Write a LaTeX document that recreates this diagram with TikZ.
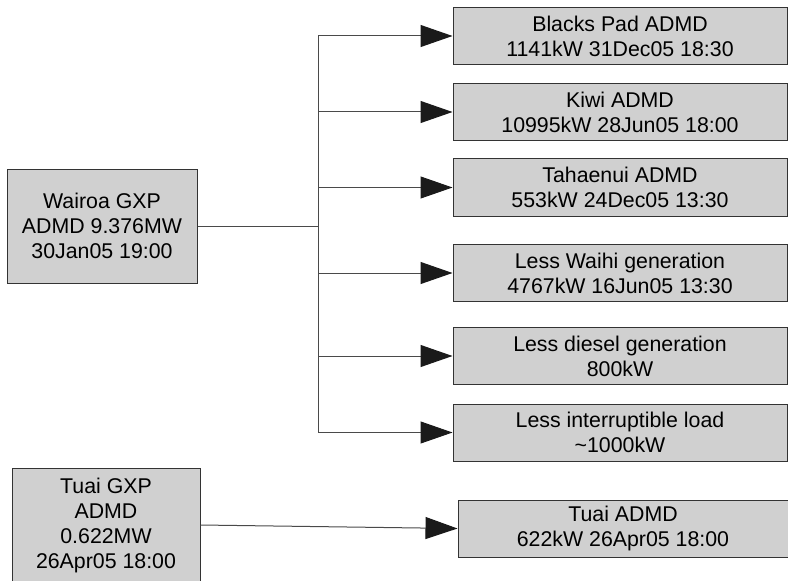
\documentclass[tikz,border=0pt]{standalone}
\usepackage{fontspec}
\setmainfont{Liberation Sans}
\usetikzlibrary{arrows.meta, positioning, calc}
\definecolor{BoxGray}{HTML}{D0D0D0}
\definecolor{EdgeGray}{HTML}{333333}
\definecolor{LineGray}{HTML}{4A4A4A}
\definecolor{HeadBlack}{HTML}{1A1A1A}

\begin{document}
\begin{tikzpicture}[x=0.75pt, y=-0.75pt,
    block/.style={draw=EdgeGray, fill=BoxGray, line width=0.75pt, align=center,
        inner sep=0pt, font=\fontsize{16}{18.75}\selectfont},
    branch/.style={block, minimum width=250.5pt, minimum height=42.75pt},
    feed/.style={draw=LineGray, line width=0.75pt},
    feedto/.style={feed, -{Triangle[length=24pt, width=16.5pt, color=HeadBlack, fill=HeadBlack]}}]
    \useasboundingbox (0,0) rectangle (788,581);
    \clip (0,0) rectangle (788,581);

    % GXP sources
    \node[block, minimum width=142.5pt, minimum height=85.5pt] (wairoa) at (102,226)
        {Wairoa GXP\\ADMD 9.376MW\\30Jan05 19:00};
    \node[block, minimum width=141pt, minimum height=85.5pt] (tuaigxp) at (106,525)
        {Tuai GXP\\ADMD\\0.622MW\\26Apr05 18:00};

    % Wairoa feeders
    \node[branch] (blacks) at (620,36) {Blacks Pad ADMD\\1141kW 31Dec05 18:30};
    \node[branch] (kiwi) at (620,112) {Kiwi ADMD\\10995kW 28Jun05 18:00};
    \node[branch] (tahaenui) at (620,187.5) {Tahaenui ADMD\\553kW 24Dec05 13:30};
    \node[branch] (waihi) at (620,273) {Less Waihi generation\\4767kW 16Jun05 13:30};
    \node[branch] (diesel) at (620,356) {Less diesel generation\\800kW};
    \node[branch] (interrupt) at (620,432.5) {Less interruptible load\\\textasciitilde1000kW};

    % Tuai feeder
    \node[block, minimum width=247.5pt, minimum height=42.75pt] (tuaiadmd) at (623,528.5)
        {Tuai ADMD\\622kW 26Apr05 18:00};

    % Trunk line
    \coordinate (trunktop) at (318,0 |- blacks.west);
    \coordinate (trunkbot) at (318,0 |- interrupt.west);
    \coordinate (junction) at (318,0 |- wairoa.east);
    \draw[feed] (wairoa.east) -- (junction);
    \draw[feed] (trunktop) -- (trunkbot);

    % Branch arrows
    \draw[feedto] (trunktop) -- (blacks.west);
    \draw[feedto] (trunktop |- kiwi.west) -- (kiwi.west);
    \draw[feedto] (trunktop |- tahaenui.west) -- (tahaenui.west);
    \draw[feedto] (trunktop |- waihi.west) -- (waihi.west);
    \draw[feedto] (trunktop |- diesel.west) -- (diesel.west);
    \draw[feedto] (trunkbot) -- (interrupt.west);

    % Tuai arrow
    \draw[feedto] (tuaigxp.east) -- (tuaiadmd.west);
\end{tikzpicture}
\end{document}
